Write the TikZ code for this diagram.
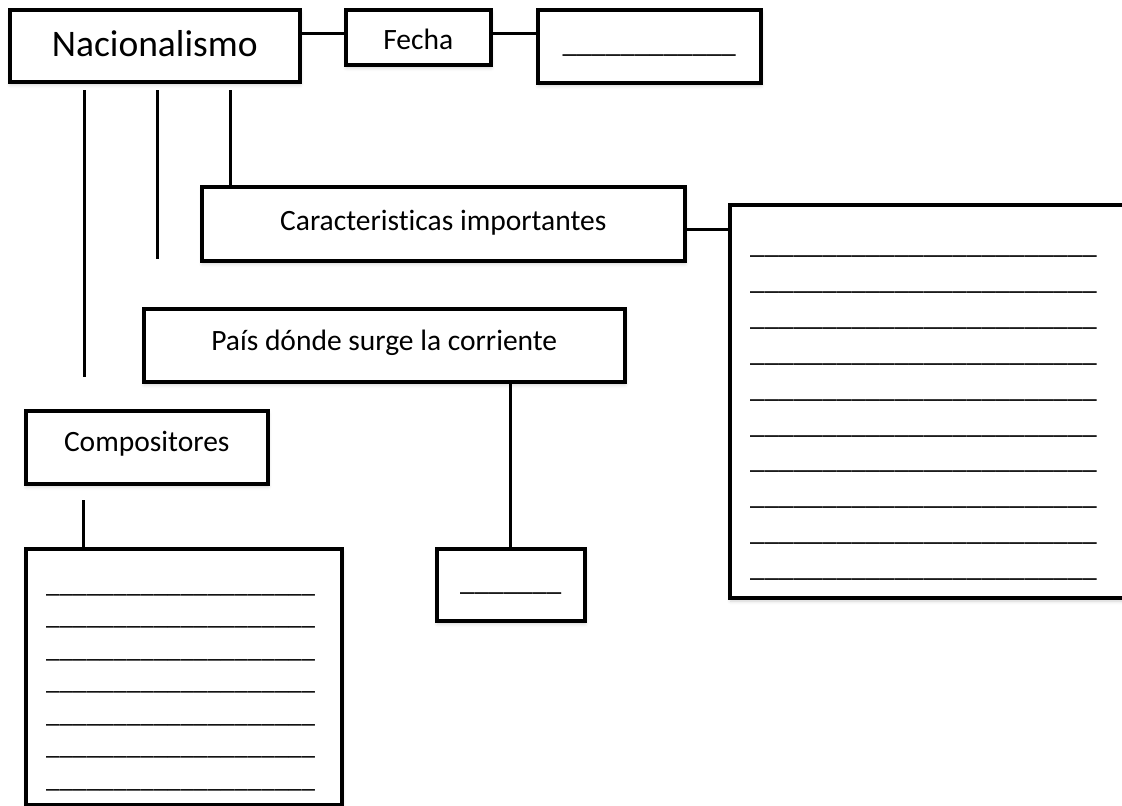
\documentclass[tikz,border=0pt]{standalone}
\usepackage{fontspec}
\setmainfont{Carlito}[Ligatures=NoCommon]
\usetikzlibrary{shadows.blur}
\begin{document}
\begin{tikzpicture}[x=1pt,y=-1pt,
  box/.style={draw=black, line width=3.5pt, fill=white, rectangle, inner sep=0pt,
    anchor=north west, text height=12pt, text depth=12pt,
    font=\fontsize{29.5}{34}\selectfont,
    blur shadow={shadow xshift=0.5pt, shadow yshift=-3pt, shadow blur radius=3.5pt, shadow opacity=18}},
  bigbox/.style={box, line width=4pt},
  conn/.style={draw=black, line width=3pt},
  ul/.style={anchor=base west, inner sep=0pt, font=\fontsize{#1}{#1}\selectfont}
]
\useasboundingbox (0,0) rectangle (1122,806);

% boxes
\node[box, minimum width=290pt, minimum height=72pt, font=\fontsize{37.5}{42}\selectfont] (nac) at (8,8) {\raisebox{-11pt}{Nacionalismo}};
\node[box, minimum width=145pt, minimum height=55pt] (fecha) at (344,8) {\raisebox{-12.5pt}{Fecha}};
\node[box, minimum width=223pt, minimum height=73pt, font=\fontsize{29}{34}\selectfont] (blank) at (536,8) {\raisebox{-6.5pt}{\_\_\_\_\_\_\_\_\_\_\_\_}};
\node[box, minimum width=483pt, minimum height=74pt] (car) at (200,185) {\raisebox{-6.5pt}{Caracteristicas importantes}};
\node[bigbox, minimum width=395pt, minimum height=393pt] (rbox) at (728,203) {};
\node[box, minimum width=481pt, minimum height=73pt] (pais) at (142,307) {\raisebox{-5.5pt}{País dónde surge la corriente}};
\node[box, minimum width=242pt, minimum height=73pt] (comp) at (24,409) {\raisebox{-4.5pt}{Compositores}};
\node[bigbox, minimum width=316pt, minimum height=256pt] (cbox) at (24,547) {};
\node[box, minimum width=148pt, minimum height=72pt, font=\fontsize{29}{34}\selectfont] (sbox) at (435,547) {\raisebox{-6pt}{\_\_\_\_\_\_\_}};

% writing lines
\foreach \i in {0,...,9}{
  \node[ul=29] (rl\i) at (750,{253.5+35.9*\i}) {\_\_\_\_\_\_\_\_\_\_\_\_\_\_\_\_\_\_\_\_\_\_\_\_};
}
\foreach \i in {0,...,6}{
  \node[ul=27] (cl\i) at (46,{592+32.5*\i}) {\_\_\_\_\_\_\_\_\_\_\_\_\_\_\_\_\_\_\_\_};
}

% free ends
\coordinate (v1t) at (84,90);  \coordinate (v1b) at (84,377);
\coordinate (v2t) at (157,90); \coordinate (v2b) at (157,259);
\coordinate (v3t) at (230,90);
\coordinate (v4t) at (83,500);

% connectors
\draw[conn] ([yshift=3.5pt]fecha.west -| nac.east) -- ([yshift=3.5pt]fecha.west);
\draw[conn] ([yshift=3.5pt]fecha.east) -- ([yshift=3.5pt]fecha.east -| blank.west);
\draw[conn] ([yshift=-6pt]car.east) -- ([yshift=-6pt]car.east -| rbox.west);
\draw[conn] (v1t) -- (v1b);
\draw[conn] (v2t) -- (v2b);
\draw[conn] (v3t) -- (v3t |- car.north);
\draw[conn] (v4t) -- (v4t |- cbox.north);
\draw[conn] (pais.south -| sbox.north) -- (sbox.north);
\end{tikzpicture}
\end{document}
